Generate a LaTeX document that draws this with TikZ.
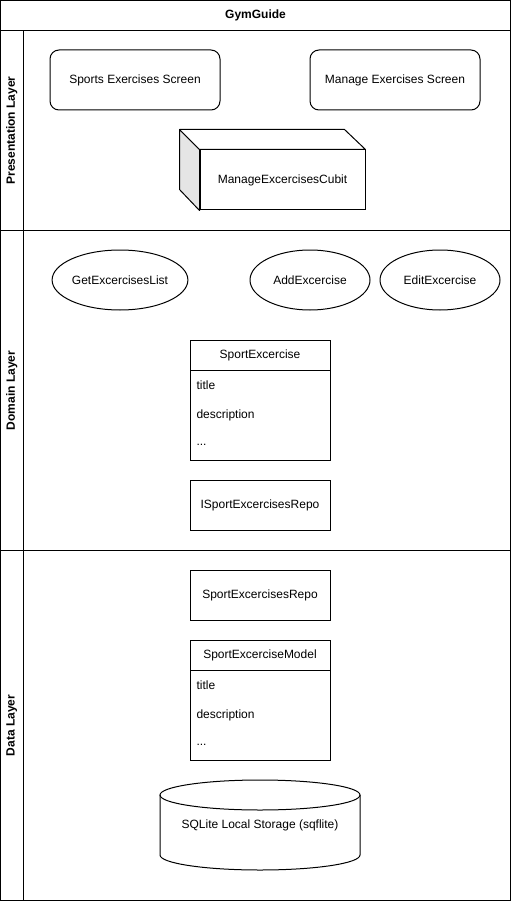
\documentclass[tikz,border=0pt]{standalone}
\usepackage{fontspec}
\setmainfont{Liberation Sans}
\usepackage{tikz}
\usetikzlibrary{shapes.geometric, positioning, calc}

\begin{document}
\begin{tikzpicture}[
    x=1pt, y=-1pt,
    font=\fontsize{12}{14}\selectfont,
    line width=1pt,
    frame/.style={rectangle, draw, inner sep=0pt},
    lanelabel/.style={rectangle, draw, inner sep=0pt, minimum height=22.5pt, font=\fontsize{12}{14}\selectfont\bfseries},
    screen/.style={rectangle, draw, rounded corners=9pt, minimum width=170pt, minimum height=60pt, inner sep=0pt},
    usecase/.style={ellipse, draw, minimum width=120pt, minimum height=60pt, inner sep=0pt},
    classhead/.style={rectangle, draw, minimum width=140pt, minimum height=30pt, inner sep=0pt, outer sep=0pt},
    classbody/.style={rectangle, draw, minimum width=140pt, minimum height=90pt, inner sep=0pt, outer sep=0pt},
    field/.style={anchor=west, inner sep=0pt},
    plainbox/.style={rectangle, draw, minimum width=140pt, minimum height=50pt, inner sep=0pt}
]
    \useasboundingbox (0,0) rectangle (511,901);

    % Pool and lanes
    \node[frame, minimum width=510pt, minimum height=30pt, font=\fontsize{12}{14}\selectfont\bfseries] (gymguide) at (255.5,15.5) {GymGuide};
    \node[frame, minimum width=487.5pt, minimum height=200pt] (presentationlane) at (266.75,130.5) {};
    \node[frame, minimum width=487.5pt, minimum height=320pt] (domainlane) at (266.75,390.5) {};
    \node[frame, minimum width=487.5pt, minimum height=350pt] (datalane) at (266.75,725.5) {};
    \node[lanelabel, rotate=90, minimum width=200pt] (presentationlabel) at (11.75,130.5) {Presentation Layer};
    \node[lanelabel, rotate=90, minimum width=320pt] (domainlabel) at (11.75,390.5) {Domain Layer};
    \node[lanelabel, rotate=90, minimum width=350pt] (datalabel) at (11.75,725.5) {Data Layer};

    % Presentation Layer
    \node[screen] (sportsscreen) at (135,80) {Sports Exercises Screen};
    \node[screen] (managescreen) at (395,80) {Manage Exercises Screen};
    \node[rectangle, draw, minimum width=165pt, minimum height=60pt, inner sep=0pt] (cubit) at (282.5,180) {ManageExcercisesCubit};
    \draw[fill=black!10, line join=round] (cubit.north west) -- ++(-20,-20) -- ++(0,60) -- (cubit.south west) -- cycle;
    \draw[fill=white, line join=round] (cubit.north west) -- ++(-20,-20) -- ++(165,0) -- (cubit.north east) -- cycle;

    % Domain Layer
    \node[usecase] (getlist) at (120,280) {GetExcercisesList};
    \node[usecase] (addexcercise) at (310,280) {AddExcercise};
    \node[usecase] (editexcercise) at (440,280) {EditExcercise};

    \node[classhead] (sportexcercise) at (260,355) {SportExcercise};
    \node[classbody, below=0pt of sportexcercise] (sportexcercisebody) {};
    \node[field] (sportexcercisetitle) at (196,385) {title};
    \node[field] (sportexcercisedesc) at (196,415) {description};
    \node[field] (sportexcercisemore) at (196,445) {...};

    \node[plainbox] (irepo) at (260,505) {ISportExcercisesRepo};

    % Data Layer
    \node[plainbox] (repo) at (260,595) {SportExcercisesRepo};

    \node[classhead] (model) at (260,655) {SportExcerciseModel};
    \node[classbody, below=0pt of model] (modelbody) {};
    \node[field] (modeltitle) at (196,685) {title};
    \node[field] (modeldesc) at (196,715) {description};
    \node[field] (modelmore) at (196,745) {...};

    \node[inner sep=0pt] (sqlite) at (260,825) {SQLite Local Storage (sqflite)};
    \draw ($(sqlite)+(-100,-30)$) -- ($(sqlite)+(-100,30)$) arc[start angle=180, end angle=360, x radius=100, y radius=-15] -- ($(sqlite)+(100,-30)$);
    \draw ($(sqlite)+(0,-30)$) ellipse[x radius=100, y radius=15];
\end{tikzpicture}
\end{document}
